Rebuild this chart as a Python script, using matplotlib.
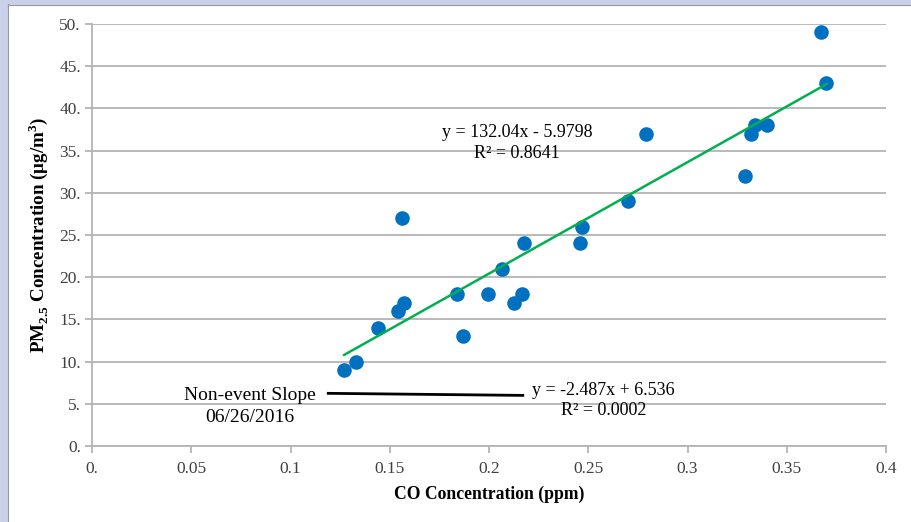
import matplotlib
matplotlib.use("Agg")
import matplotlib.pyplot as plt
from matplotlib.patches import Rectangle
from matplotlib.lines import Line2D
from matplotlib.ticker import FuncFormatter
import numpy as np

# CO (ppm) vs PM2.5 (ug/m3) readings
co_ppm = [0.127, 0.133, 0.144, 0.154, 0.157, 0.156, 0.184, 0.187, 0.1995, 0.2065,
          0.2125, 0.2165, 0.2175, 0.2458, 0.2468, 0.270, 0.279, 0.329, 0.332,
          0.334, 0.340, 0.367, 0.370]
pm25 = [9, 10, 14, 16, 17, 27, 18, 13, 18, 21, 17, 18, 24, 24, 26, 29, 37, 32, 37,
        38, 38, 49, 43]

# trendline coefficients shown on the chart
event_slope, event_icpt = 132.04, -5.9798
nonevent_slope, nonevent_icpt = -2.487, 6.536
nonevent_x = [0.119, 0.217]

x_ticks = [0, 0.05, 0.1, 0.15, 0.2, 0.25, 0.3, 0.35, 0.4]
y_ticks = [0, 5, 10, 15, 20, 25, 30, 35, 40, 45, 50]

plt.rcParams['font.family'] = ['Liberation Serif', 'DejaVu Serif']
plt.rcParams['mathtext.fontset'] = 'custom'
plt.rcParams['mathtext.rm'] = 'Liberation Serif'
plt.rcParams['mathtext.bf'] = 'Liberation Serif:bold'

fig = plt.figure(figsize=(9.11, 5.22), dpi=100)
ax = fig.add_axes([0.101, 0.1456, 0.8716, 0.8084])

# frame strips like the screenshot
frame_col = '#c9d1ea'
edge_col = '#9a9a9a'
fig.patches.append(Rectangle((0, 0), 7 / 911, 1, transform=fig.transFigure,
                             color=frame_col, zorder=-1))
fig.patches.append(Rectangle((0, 1 - 4 / 522), 1, 4 / 522, transform=fig.transFigure,
                             color=frame_col, zorder=-1))
fig.lines.append(Line2D([7.5 / 911, 7.5 / 911], [0, 1 - 4 / 522], transform=fig.transFigure,
                        color=edge_col, linewidth=0.8))
fig.lines.append(Line2D([7.5 / 911, 1], [1 - 4.5 / 522, 1 - 4.5 / 522],
                        transform=fig.transFigure, color=edge_col, linewidth=0.8))

grid_col = '#b4b4b4'
ax.set_xlim(0, 0.4)
ax.set_ylim(0, 50)
ax.set_xticks(x_ticks)
ax.set_yticks(y_ticks)
ax.yaxis.grid(True, color=grid_col, linewidth=1.3)
ax.set_axisbelow(True)
for s in ['top', 'right']:
    ax.spines[s].set_visible(False)
for s in ['left', 'bottom']:
    ax.spines[s].set_color(grid_col)
    ax.spines[s].set_linewidth(1.3)
ax.tick_params(axis='both', colors=grid_col, length=5, width=1.3, labelsize=12.5,
               labelcolor='#404040')
ax.tick_params(axis='x', pad=6)
ax.tick_params(axis='y', pad=3)
ax.xaxis.set_major_formatter(FuncFormatter(lambda v, p: "0." if v == 0 else "%g" % v))
ax.yaxis.set_major_formatter(FuncFormatter(lambda v, p: "%d." % v))

ax.scatter(co_ppm, pm25, s=110, color='#0070c0', zorder=3, linewidths=0)

xs = np.array([min(co_ppm), max(co_ppm)])
ax.plot(xs, event_slope * xs + event_icpt, color='#00b050', linewidth=1.8, zorder=4)

xn = np.array(nonevent_x)
ax.plot(xn, nonevent_slope * xn + nonevent_icpt, color='black', linewidth=2, zorder=4)

ax.text(0.214, 37.2, "y = 132.04x - 5.9798", fontsize=13, ha='center', va='center')
ax.text(0.214, 34.7, "R² = 0.8641", fontsize=13, ha='center', va='center')
ax.text(0.2574, 6.55, "y = -2.487x + 6.536", fontsize=13, ha='center', va='center')
ax.text(0.2578, 4.18, "R² = 0.0002", fontsize=13, ha='center', va='center')
ax.text(0.0795, 4.7, "Non-event Slope\n06/26/2016", fontsize=14, ha='center',
        va='center', linespacing=1.35)

ax.set_xlabel("CO Concentration (ppm)", fontsize=12.7, fontweight='bold', labelpad=6)
ax.set_ylabel(r"PM$_{\mathbf{2.5}}$ Concentration (μg/m$^{\mathbf{3}}$)", fontsize=13.7,
              fontweight='bold', labelpad=7)

fig.savefig("out.png", dpi=100)
